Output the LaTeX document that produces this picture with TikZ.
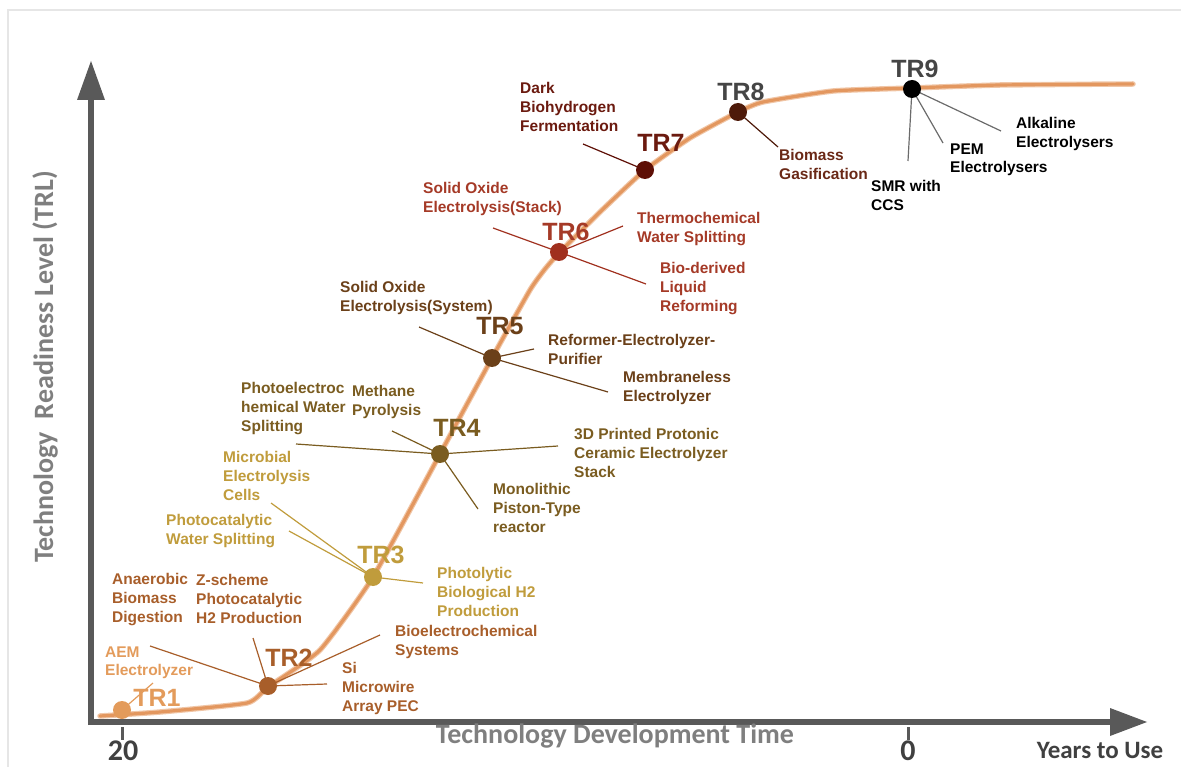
\documentclass[tikz,border=0pt]{standalone}
\usepackage{fontspec}
\setmainfont{Liberation Sans}
\newfontfamily\axisfont{Carlito}
\definecolor{axisgray}{HTML}{595959}
\definecolor{titlegray}{HTML}{7F7F7F}
\definecolor{darkgray}{HTML}{404040}
\definecolor{framegray}{HTML}{E6E6E6}
\definecolor{curveorange}{HTML}{E3975F}
\definecolor{cA}{HTML}{E39B5B}
\definecolor{cB}{HTML}{A85E2A}
\definecolor{cC}{HTML}{C09C3C}
\definecolor{cD}{HTML}{7A5C20}
\definecolor{cE}{HTML}{6B4019}
\definecolor{cF}{HTML}{A0301E}
\definecolor{cFt}{HTML}{A53A27}
\definecolor{cG}{HTML}{5E0F06}
\definecolor{cGt}{HTML}{6B1A0F}
\definecolor{cH}{HTML}{4E1A0A}
\definecolor{cHt}{HTML}{6A2816}
\definecolor{trgray}{HTML}{454545}
\definecolor{conngray}{HTML}{6B6B6B}
\begin{document}
\begin{tikzpicture}[x=1pt,y=-1pt,
  lbl/.style={anchor=north west, inner sep=0pt, align=left,
    font=\bfseries\fontsize{15.5}{18.8}\selectfont},
  trl/.style={inner sep=0pt, font=\bfseries\fontsize{25}{30}\selectfont},
  trdot/.style={circle, fill=#1, minimum size=18pt, inner sep=0pt},
  conn/.style={line width=1.2pt},
  axisline/.style={axisgray, line width=6pt},
  axishead/.style={fill=axisgray, draw=none},
  yearnum/.style={font=\axisfont\bfseries\fontsize{30}{32}\selectfont, text=darkgray, inner sep=0pt},
  axistitle/.style={font=\axisfont\bfseries\fontsize{28}{30}\selectfont, text=titlegray, inner sep=0pt},
]
\useasboundingbox (0,0) rectangle (1181,767);
% thin frame on the left and top
\draw[framegray, line width=1.5pt] (8,767) -- (8,10) -- (1181,10);

% axes
\coordinate (org) at (88,722);
\coordinate (ytop) at (91,98);
\coordinate (xend) at (1112,722);
\draw[axisline] (91,725) -- (ytop);
\draw[axisline] (org) -- (xend);
\fill[axishead] (91,61) -- (105,100) -- (77,100) -- cycle;
\fill[axishead] (1147,722) -- (1110,708) -- (1110,736) -- cycle;
% ticks
\draw[axisgray, line width=3pt] (122,727) -- (122,740);
\draw[axisgray, line width=3pt] (908,727) -- (908,740);
\node[yearnum] (t20) at (123,751) {20};
\node[yearnum] (t0) at (908,751) {0};
\node[font=\axisfont\bfseries\fontsize{25}{28}\selectfont, text=darkgray, inner sep=0pt] (ytu) at (1100,750) {Years to Use};
\node[axistitle] (xlab) at (615,736) {Technology Development Time};
\node[axistitle, rotate=90] (ylab) at (45,367) {Technology\ \ Readiness Level (TRL)};

% readiness points on the curve
\coordinate (p1) at (122,710);
\coordinate (p2) at (268,686);
\coordinate (p3) at (373,577);
\coordinate (p4) at (440,454);
\coordinate (p5) at (492,358);
\coordinate (p6) at (559,252);
\coordinate (p7) at (645,170);
\coordinate (p8) at (738,112);
\coordinate (p9) at (912,89);

% development curve
\def\curvepts{(100,716) (160,712) (247,703) (268,687) (320,650) (373,577) (440,454) (492,358) (530,290) (545,269) (559,253) (600,212) (645,170) (690,138) (738,112) (763,102) (833,91) (912,88) (1000,85) (1133,84)}
\draw[curveorange!55, line width=5.5pt, line join=round, line cap=round]
  plot[smooth, tension=0.3] coordinates {\curvepts};
\draw[curveorange, line width=3.2pt, line join=round, line cap=round]
  plot[smooth, tension=0.3] coordinates {\curvepts};

% TR1
\coordinate (e1a) at (153,683);
\draw[conn, cA] (p1) -- (e1a);
\node[lbl, text=cA] (l1a) at (105,646.3) {AEM\\Electrolyzer};
\node[trl, text=cA] (tr1lab) at (157,698) {TR1};

% TR2
\coordinate (e2a) at (150,646);
\coordinate (e2b) at (253,638);
\coordinate (e2c) at (380,635);
\coordinate (e2d) at (327,684);
\draw[conn, cB] (p2) -- (e2a);
\draw[conn, cB] (p2) -- (e2b);
\draw[conn, cB] (p2) -- (e2c);
\draw[conn, cB] (p2) -- (e2d);
\node[lbl, text=cB] (l2a) at (112,573.3) {Anaerobic\\Biomass\\Digestion};
\node[lbl, text=cB] (l2b) at (196,574.3) {Z-scheme\\Photocatalytic\\H2 Production};
\node[lbl, text=cB] (l2c) at (395,625.3) {Bioelectrochemical\\Systems};
\node[lbl, text=cB] (l2d) at (342,662.3) {Si\\Microwire\\Array PEC};
\node[trl, text=cB] (tr2lab) at (289,658) {TR2};

% TR3
\coordinate (e3a) at (271,503);
\coordinate (e3b) at (289,531);
\coordinate (e3c) at (423,583);
\draw[conn, cC] (p3) -- (e3a);
\draw[conn, cC] (p3) -- (e3b);
\draw[conn, cC] (p3) -- (e3c);
\node[lbl, text=cC] (l3a) at (223,451.3) {Microbial\\Electrolysis\\Cells};
\node[lbl, text=cC] (l3b) at (166,514.3) {Photocatalytic\\Water Splitting};
\node[lbl, text=cC] (l3c) at (437,567.3) {Photolytic\\Biological H2\\Production};
\node[trl, text=cC] (tr3lab) at (381,555) {TR3};

% TR4
\coordinate (e4a) at (296,444);
\coordinate (e4b) at (392,431);
\coordinate (e4c) at (558,446);
\coordinate (e4d) at (478,509);
\draw[conn, cD] (p4) -- (e4a);
\draw[conn, cD] (p4) -- (e4b);
\draw[conn, cD] (p4) -- (e4c);
\draw[conn, cD] (p4) -- (e4d);
\node[lbl, text=cD] (l4a) at (241,382.3) {Photoelectroc\\hemical Water\\Splitting};
\node[lbl, text=cD] (l4b) at (352,385.3) {Methane\\Pyrolysis};
\node[lbl, text=cD] (l4c) at (574,428.3) {3D Printed Protonic\\Ceramic Electrolyzer\\Stack};
\node[lbl, text=cD] (l4d) at (493,483.3) {Monolithic\\Piston-Type\\reactor};
\node[trl, text=cD] (tr4lab) at (457,428) {TR4};

% TR5
\coordinate (e5a) at (419,327);
\coordinate (e5b) at (534,349);
\coordinate (e5c) at (608,392);
\draw[conn, cE] (p5) -- (e5a);
\draw[conn, cE] (p5) -- (e5b);
\draw[conn, cE] (p5) -- (e5c);
\node[lbl, text=cE] (l5a) at (340,281.3) {Solid Oxide\\Electrolysis(System)};
\node[lbl, text=cE] (l5b) at (548,334.3) {Reformer-Electrolyzer-\\Purifier};
\node[lbl, text=cE] (l5c) at (623,371.3) {Membraneless\\Electrolyzer};
\node[trl, text=cE] (tr5lab) at (500,326) {TR5};

% TR6
\coordinate (e6a) at (493,228);
\coordinate (e6b) at (623,226);
\coordinate (e6c) at (646,284);
\draw[conn, cF] (p6) -- (e6a);
\draw[conn, cF] (p6) -- (e6b);
\draw[conn, cF] (p6) -- (e6c);
\node[lbl, text=cFt] (l6a) at (423,182.3) {Solid Oxide\\Electrolysis(Stack)};
\node[lbl, text=cFt] (l6b) at (637,212.3) {Thermochemical\\Water Splitting};
\node[lbl, text=cFt] (l6c) at (660,262.3) {Bio-derived\\Liquid\\Reforming};
\node[trl, text=cFt] (tr6lab) at (566,232) {TR6};

% TR7
\coordinate (e7a) at (583,144);
\draw[conn, cG] (p7) -- (e7a);
\node[lbl, text=cGt] (l7a) at (520,82.3) {Dark\\Biohydrogen\\Fermentation};
\node[trl, text=cGt] (tr7lab) at (661,143) {TR7};

% TR8
\coordinate (e8a) at (778,147);
\draw[conn, cH] (p8) -- (e8a);
\node[lbl, text=cHt] (l8a) at (779,149.3) {Biomass\\Gasification};
\node[trl, text=trgray] (tr8lab) at (741,92) {TR8};

% TR9
\coordinate (e9a) at (908,161);
\coordinate (e9b) at (943,143);
\coordinate (e9c) at (1001,131);
\draw[conn, conngray] (p9) -- (e9a);
\draw[conn, conngray] (p9) -- (e9b);
\draw[conn, conngray] (p9) -- (e9c);
\node[lbl, text=black] (l9a) at (871,180.3) {SMR with\\CCS};
\node[lbl, text=black] (l9b) at (950,143.3) {PEM\\Electrolysers};
\node[lbl, text=black] (l9c) at (1016,117.3) {Alkaline\\Electrolysers};
\node[trl, text=trgray] (tr9lab) at (915,69) {TR9};

% markers on top
\node[trdot=cA] (tr1) at (p1) {};
\node[trdot=cB] (tr2) at (p2) {};
\node[trdot=cC] (tr3) at (p3) {};
\node[trdot=cD] (tr4) at (p4) {};
\node[trdot=cE] (tr5) at (p5) {};
\node[trdot=cF] (tr6) at (p6) {};
\node[trdot=cG] (tr7) at (p7) {};
\node[trdot=cH] (tr8) at (p8) {};
\node[trdot=black] (tr9) at (p9) {};
\end{tikzpicture}
\end{document}
